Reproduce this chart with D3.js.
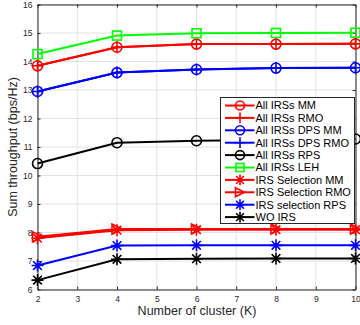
<!DOCTYPE html>
<html>
<head>
<meta charset="utf-8">
<script src="https://cdn.jsdelivr.net/npm/d3@7"></script>
<style>
  html, body { margin: 0; padding: 0; background: #fff; }
  svg { display: block; font-family: "Liberation Sans", Arial, sans-serif; }
</style>
</head>
<body>
<svg id="chart" width="360" height="325"></svg>
<script>
// Cluster counts on the x axis
const clusters = [2, 4, 6, 8, 10];
const xTicks = [2, 3, 4, 5, 6, 7, 8, 9, 10];
const yTicks = [6, 7, 8, 9, 10, 11, 12, 13, 14, 15, 16];

// Sum throughput (bps/Hz) per scheme
const allMM      = [13.85, 14.50, 14.61, 14.61, 14.62];
const allRMO     = [13.85, 14.50, 14.61, 14.61, 14.62];
const allDpsMM   = [12.95, 13.61, 13.72, 13.77, 13.78];
const allDpsRMO  = [12.95, 13.61, 13.72, 13.77, 13.78];
const allRPS     = [10.42, 11.15, 11.22, 11.25, 11.28];
const allLEH     = [14.26, 14.91, 14.99, 15.00, 15.01];
const selMM      = [7.80, 8.08, 8.10, 8.10, 8.10];
const selRMO     = [7.85, 8.12, 8.12, 8.12, 8.12];
const selRPS     = [6.84, 7.54, 7.55, 7.55, 7.55];
const woIRS      = [6.33, 7.06, 7.08, 7.09, 7.09];

const series = [
  { name: "All IRSs MM",        values: allMM,     color: "#ff0000", marker: "circle" },
  { name: "All IRSs RMO",       values: allRMO,    color: "#ff0000", marker: "plus" },
  { name: "All IRSs DPS MM",    values: allDpsMM,  color: "#0000ff", marker: "circle" },
  { name: "All IRSs DPS RMO",   values: allDpsRMO, color: "#0000ff", marker: "plus" },
  { name: "All IRSs RPS",       values: allRPS,    color: "#000000", marker: "circle" },
  { name: "All IRSs LEH",       values: allLEH,    color: "#00ff00", marker: "square" },
  { name: "IRS Selection MM",   values: selMM,     color: "#ff0000", marker: "star" },
  { name: "IRS Selection RMO",  values: selRMO,    color: "#ff0000", marker: "triangle" },
  { name: "IRS selection RPS",  values: selRPS,    color: "#0000ff", marker: "star" },
  { name: "WO IRS",             values: woIRS,     color: "#000000", marker: "star" }
];

const svg = d3.select("#chart");
const m = { left: 37.5, right: 355.5, top: 4.5, bottom: 289.5 };

const x = d3.scaleLinear().domain([2, 10]).range([m.left, m.right]);
const y = d3.scaleLinear().domain([6, 16]).range([m.bottom, m.top]);

// grid
const grid = svg.append("g").attr("stroke", "#e3e3e3").attr("stroke-width", 1);
xTicks.forEach(t => grid.append("line")
  .attr("x1", x(t)).attr("x2", x(t)).attr("y1", m.top).attr("y2", m.bottom));
yTicks.forEach(t => grid.append("line")
  .attr("x1", m.left).attr("x2", m.right).attr("y1", y(t)).attr("y2", y(t)));

// axes (ticks pointing inward, box around the plot)
const axColor = "#262626";
const xAxis = svg.append("g").attr("transform", `translate(0,${m.bottom})`)
  .call(d3.axisBottom(x).tickValues(xTicks).tickSizeInner(-3).tickSizeOuter(0).tickPadding(6));
const xAxisTop = svg.append("g").attr("transform", `translate(0,${m.top})`)
  .call(d3.axisTop(x).tickValues(xTicks).tickSizeInner(-3).tickSizeOuter(0).tickFormat(""));
const yAxis = svg.append("g").attr("transform", `translate(${m.left},0)`)
  .call(d3.axisLeft(y).tickValues(yTicks).tickSizeInner(-3).tickSizeOuter(0).tickPadding(5));
const yAxisRight = svg.append("g").attr("transform", `translate(${m.right},0)`)
  .call(d3.axisRight(y).tickValues(yTicks).tickSizeInner(-3).tickSizeOuter(0).tickFormat(""));
[xAxis, xAxisTop, yAxis, yAxisRight].forEach(g => {
  g.selectAll("path").attr("stroke", axColor).attr("stroke-width", 1);
  g.selectAll("line").attr("stroke", axColor);
  g.selectAll("text").attr("fill", "#262626").style("font-size", "8.5px")
    .style("font-family", "Liberation Sans, Arial, sans-serif");
});

// marker drawing
function drawMarker(g, type, cx, cy, color, s) {
  const k = s || 1;
  if (type === "circle") {
    g.append("circle").attr("cx", cx).attr("cy", cy).attr("r", 5 * k)
      .attr("fill", "none").attr("stroke", color).attr("stroke-width", 1.6);
  } else if (type === "plus") {
    const r = 6 * k;
    g.append("path").attr("d", `M${cx - r},${cy}H${cx + r}M${cx},${cy - r}V${cy + r}`)
      .attr("stroke", color).attr("stroke-width", 1.6).attr("fill", "none");
  } else if (type === "square") {
    const r = 4.5 * k;
    g.append("rect").attr("x", cx - r).attr("y", cy - r).attr("width", 2 * r).attr("height", 2 * r)
      .attr("fill", "none").attr("stroke", color).attr("stroke-width", 1.6);
  } else if (type === "triangle") {
    const r = 5 * k;
    g.append("path").attr("d", `M${cx + r},${cy}L${cx - r},${cy - r}L${cx - r},${cy + r}Z`)
      .attr("fill", "none").attr("stroke", color).attr("stroke-width", 1.6);
  } else if (type === "star") {
    const r = 6 * k, d = r * 0.72;
    g.append("path")
      .attr("d", `M${cx - r},${cy}H${cx + r}M${cx},${cy - r}V${cy + r}M${cx - d},${cy - d}L${cx + d},${cy + d}M${cx - d},${cy + d}L${cx + d},${cy - d}`)
      .attr("stroke", color).attr("stroke-width", 1.6).attr("fill", "none");
  }
}

const line = d3.line().x((d, i) => x(clusters[i])).y(d => y(d));
const plot = svg.append("g");
series.forEach(s => {
  const g = plot.append("g");
  g.append("path").datum(s.values).attr("d", line)
    .attr("fill", "none").attr("stroke", s.color).attr("stroke-width", 2);
  s.values.forEach((v, i) => drawMarker(g, s.marker, x(clusters[i]), y(v), s.color));
});

// axis labels
svg.append("text").attr("x", (m.left + m.right) / 2 + 0.5).attr("y", 314.5)
  .attr("text-anchor", "middle").attr("fill", "#262626").style("font-size", "12.5px")
  .text("Number of cluster (K)");
svg.append("text").attr("transform", `translate(17,${(m.top + m.bottom) / 2}) rotate(-90)`)
  .attr("text-anchor", "middle").attr("fill", "#262626").style("font-size", "12.5px")
  .text("Sum throughput (bps/Hz)");

// legend
const lg = { x: 220.5, y: 97.5, w: 134, h: 126, row: 12.4 };
const legend = svg.append("g");
legend.append("rect").attr("x", lg.x).attr("y", lg.y).attr("width", lg.w).attr("height", lg.h)
  .attr("fill", "#fff").attr("stroke", "#262626").attr("stroke-width", 1);
series.forEach((s, i) => {
  const cy = lg.y + 8 + i * lg.row;
  const g = legend.append("g");
  g.append("line").attr("x1", lg.x + 4.5).attr("x2", lg.x + 34).attr("y1", cy).attr("y2", cy)
    .attr("stroke", s.color).attr("stroke-width", 2);
  drawMarker(g, s.marker, lg.x + 19.5, cy, s.color, 0.9);
  g.append("text").attr("x", lg.x + 35).attr("y", cy).attr("dy", "0.35em")
    .attr("fill", "#000").style("font-size", "11px").text(s.name);
});
</script>
</body>
</html>
